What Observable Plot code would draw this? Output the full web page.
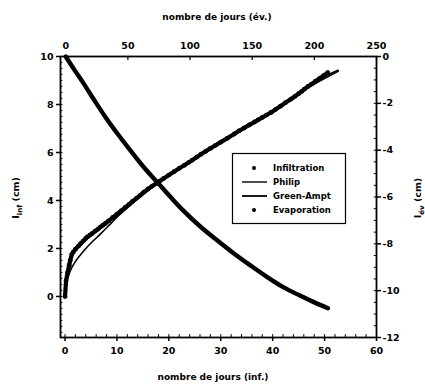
<!DOCTYPE html>
<html>
<head>
<meta charset="utf-8">
<script src="https://cdn.jsdelivr.net/npm/d3@7"></script>
<script src="https://cdn.jsdelivr.net/npm/@observablehq/plot@0.6"></script>
<style>
  body { margin: 0; background: white; }
  #chart { position: relative; width: 425px; height: 384px; }
  #chart svg { position: absolute; left: 0; top: 0; }
</style>
</head>
<body>
<div id="chart"></div>
<script>
// ---- Data ----
// Infiltration (bottom axis: days, left axis: cm)
const infDays = [0, 0.2, 0.5, 0.8, 1.0, 1.3, 1.6, 2.0, 2.6, 3.0, 3.5, 4.0, 4.3, 4.8, 5.2, 5.8, 6.3, 6.8, 7.3, 7.8, 8.4, 9.2, 10.0, 10.8, 11.6, 12.3, 13.0, 13.8, 14.5, 15.2, 16.0, 16.8, 17.5, 18.2, 19.0, 20.0, 21.0, 22.0, 23.0, 23.8, 24.5, 25.4, 26.2, 27.1, 28.0, 29.0, 30.0, 31.3, 32.6, 33.5, 34.5, 35.5, 36.5, 37.2, 38.0, 38.8, 39.7, 40.6, 41.5, 42.5, 43.5, 44.3, 45.0, 45.6, 46.1, 46.8, 47.5, 48.2, 49.0, 49.8, 50.6];
const infVals = [0, 0.65, 1.0, 1.3, 1.5, 1.75, 1.85, 1.97, 2.1, 2.2, 2.31, 2.42, 2.48, 2.56, 2.62, 2.72, 2.8, 2.89, 2.97, 3.05, 3.15, 3.29, 3.43, 3.57, 3.71, 3.83, 3.96, 4.1, 4.22, 4.35, 4.48, 4.6, 4.7, 4.8, 4.92, 5.06, 5.2, 5.34, 5.47, 5.58, 5.68, 5.81, 5.93, 6.05, 6.17, 6.3, 6.43, 6.6, 6.77, 6.9, 7.02, 7.15, 7.27, 7.36, 7.46, 7.56, 7.67, 7.8, 7.93, 8.08, 8.22, 8.34, 8.45, 8.55, 8.64, 8.75, 8.85, 8.96, 9.08, 9.2, 9.33];
// Philip model
const philipDays = [0, 0.2, 0.6, 1.3, 2.6, 5.2, 8.4, 11.6, 17.5, 26.2, 32.6, 39.7, 46.1, 50.6, 52.6];
const philipVals = [0, 0.7, 1.15, 1.72, 2.08, 2.6, 3.14, 3.7, 4.68, 5.92, 6.76, 7.66, 8.62, 9.22, 9.42];
// Green-Ampt model
const gaDays = [0, 0.3, 0.8, 1.3, 2.0, 2.6, 3.8, 5.2, 6.8, 8.4, 10.0, 11.6, 17.5, 26.2, 32.6, 39.7, 46.1, 52.6];
const gaVals = [0, 0.6, 0.95, 1.2, 1.45, 1.63, 1.95, 2.27, 2.6, 2.95, 3.3, 3.62, 4.66, 5.9, 6.75, 7.65, 8.6, 9.38];
// Evaporation (top axis: days, right axis: cm)
const evDays = [0, 7, 14.6, 23, 32, 42, 52, 63, 74.7, 84, 94, 108, 122, 135, 148, 161, 175, 188, 200, 211];
const evVals = [0, -0.57, -1.17, -1.87, -2.59, -3.32, -4.01, -4.74, -5.43, -5.98, -6.55, -7.25, -7.86, -8.4, -8.9, -9.38, -9.85, -10.2, -10.5, -10.75];

// Tick labels
const bottomTicks = [0, 10, 20, 30, 40, 50, 60];
const leftTicks = [0, 2, 4, 6, 8, 10];
const topTicks = [0, 50, 100, 150, 200, 250];
const rightTicks = [0, -2, -4, -6, -8, -10, -12];

// Text
const titleTop = "nombre de jours (év.)";
const titleBottom = "nombre de jours (inf.)";
const legendLabels = ["Infiltration", "Philip", "Green-Ampt", "Evaporation"];

// ---- Layout ----
const W = 425, H = 384;
const margins = {marginTop: 56, marginRight: 49, marginBottom: 47, marginLeft: 60};
const font = "'DejaVu Sans', 'Liberation Sans', sans-serif";
const baseStyle = {fontFamily: font, fontWeight: "bold", fontSize: "9.5px", color: "black", background: "transparent", overflow: "visible"};

const inf = infDays.map((d, i) => ({d, v: infVals[i]}));
const phi = philipDays.map((d, i) => ({d, v: philipVals[i]}));
const ga = gaDays.map((d, i) => ({d, v: gaVals[i]}));
const ev = evDays.map((d, i) => ({d, v: evVals[i]}));

const xMin = -0.87, xMax = 60, yMin = -1.71, yMax = 10;

const p1 = Plot.plot({
  width: W, height: H, ...margins,
  style: baseStyle,
  x: {domain: [xMin, xMax], axis: null},
  y: {domain: [yMin, yMax], axis: null},
  marks: [
    Plot.ruleY(d3.range(-1.5, 10.01, 0.25), {x1: xMin, x2: xMin + 0.45, strokeWidth: 1}),
    Plot.ruleX(d3.range(0, 60.01, 2), {y1: yMin, y2: yMin + 0.12, strokeWidth: 1}),
    Plot.axisX({ticks: bottomTicks, tickSize: 4, tickPadding: 6, label: null, tickFormat: d => String(d), strokeWidth: 1.5}),
    Plot.axisY({ticks: leftTicks, tickSize: 4, tickPadding: 3, label: null, tickFormat: d => String(d), strokeWidth: 1.5}),
    Plot.line(ga, {x: "d", y: "v", stroke: "black", strokeWidth: 1.6, curve: "catmull-rom"}),
    Plot.line(inf, {x: "d", y: "v", stroke: "black", strokeWidth: 4.2, strokeLinecap: "round"}),
    Plot.dot(inf, {x: "d", y: "v", r: 2.4, fill: "black"}),
    Plot.line(phi, {x: "d", y: "v", stroke: "black", strokeWidth: 1.8, curve: "catmull-rom"}),
    Plot.frame({stroke: "black", strokeWidth: 1.8})
  ]
});

const tMin = -4.2, tMax = 250, rMin = -12, rMax = 0;
const p2 = Plot.plot({
  width: W, height: H, ...margins,
  style: baseStyle,
  x: {domain: [tMin, tMax], axis: null},
  y: {domain: [rMin, rMax], axis: null},
  marks: [
    Plot.ruleX(topTicks, {y1: rMax, y2: rMax - 0.17, strokeWidth: 1.2}),
    Plot.ruleY(d3.range(-12, 0.01, 0.5), {x1: tMax - 1.8, x2: tMax, strokeWidth: 1}),
    Plot.axisX({anchor: "top", ticks: topTicks, tickSize: 0, tickPadding: 8, label: null, tickFormat: d => String(d)}),
    Plot.axisY({anchor: "right", ticks: rightTicks, tickSize: 4, tickPadding: 2, label: null, tickFormat: d => String(d), strokeWidth: 1.5}),
    Plot.line(ev, {x: "d", y: "v", stroke: "black", strokeWidth: 4.4, strokeLinecap: "round", curve: "catmull-rom"})
  ]
});

const chart = document.getElementById("chart");
chart.appendChild(p1);
chart.appendChild(p2);

// ---- Titles, axis labels and legend ----
const svg = d3.select(p2);
svg.append("text").attr("x", 217).attr("y", 20).attr("text-anchor", "middle")
  .attr("font-size", 9).attr("font-weight", "bold").text(titleTop);
svg.append("text").attr("x", 213).attr("y", 380).attr("text-anchor", "middle")
  .attr("font-size", 9).attr("font-weight", "bold").text(titleBottom);

function yLabel(x, sub) {
  const t = svg.append("text").attr("transform", `translate(${x},198) rotate(-90)`)
    .attr("text-anchor", "middle").attr("font-size", 9.5).attr("font-weight", "bold");
  t.append("tspan").text("I");
  t.append("tspan").attr("font-size", 7).attr("dy", 3).text(sub);
  t.append("tspan").attr("dy", -3).text(" (cm)");
}
yLabel(19, "inf");
yLabel(421, "év");

const lg = svg.append("g").attr("text-anchor", "start");
lg.append("rect").attr("x", 232.5).attr("y", 153.5).attr("width", 113).attr("height", 70)
  .attr("fill", "white").attr("stroke", "black").attr("stroke-width", 1.2);
const rowsY = [168, 182, 196, 210];
legendLabels.forEach((lab, i) => {
  const y = rowsY[i];
  if (i === 0 || i === 3) {
    lg.append("circle").attr("cx", 254).attr("cy", y).attr("r", 2).attr("fill", "black");
  } else {
    lg.append("line").attr("x1", 242).attr("x2", 267).attr("y1", y).attr("y2", y)
      .attr("stroke", "black").attr("stroke-width", i === 1 ? 1.4 : 1.8);
  }
  lg.append("text").attr("x", 273).attr("y", y + 3).attr("font-size", 8.5)
    .attr("font-weight", "bold").attr("text-anchor", "start").text(lab);
});
</script>
</body>
</html>
